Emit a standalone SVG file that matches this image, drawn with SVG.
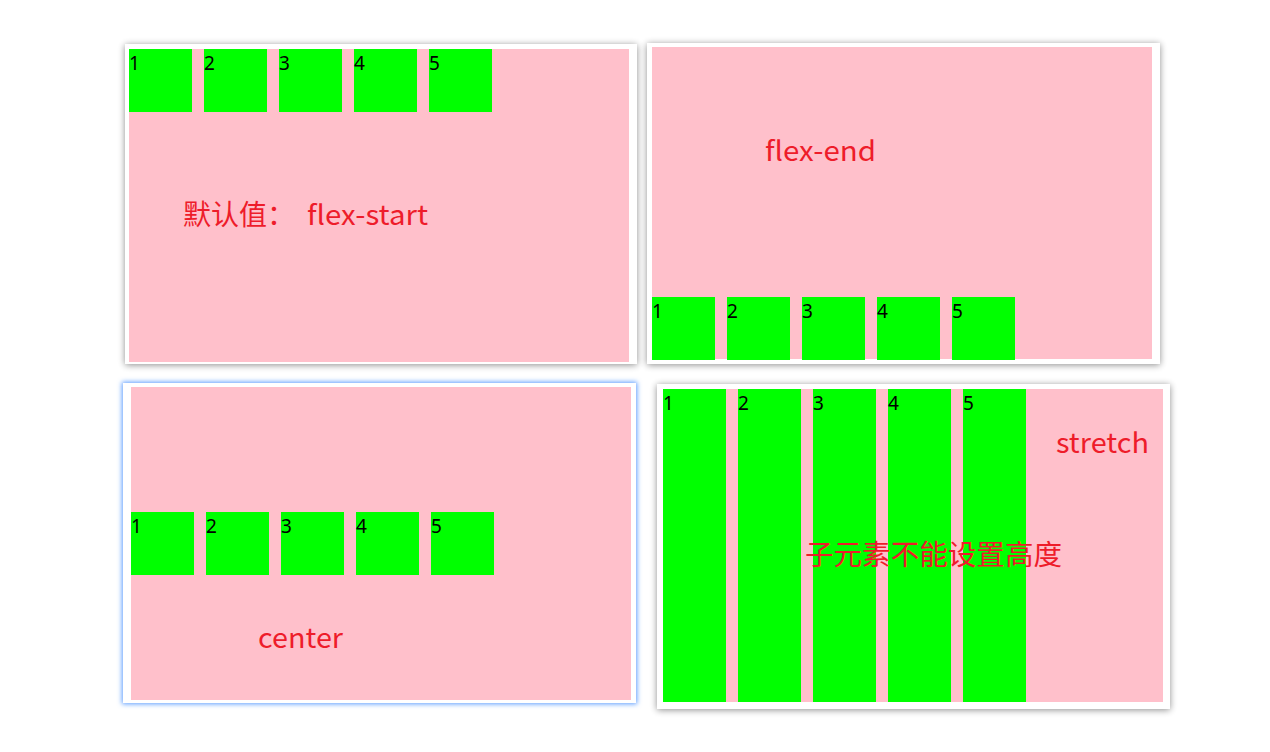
<svg xmlns="http://www.w3.org/2000/svg" width="1270" height="752" viewBox="0 0 1270 752">
<defs>
<filter id="sh" x="-5%" y="-5%" width="110%" height="110%"><feGaussianBlur in="SourceAlpha" stdDeviation="3.5"/><feOffset dx="0" dy="1"/><feComponentTransfer><feFuncA type="linear" slope="0.45"/></feComponentTransfer><feMerge><feMergeNode/><feMergeNode in="SourceGraphic"/></feMerge></filter>
<filter id="blue" x="-5%" y="-5%" width="110%" height="110%"><feMorphology in="SourceAlpha" operator="dilate" radius="1" result="d"/><feGaussianBlur in="d" stdDeviation="2.5" result="b"/><feFlood flood-color="#5a9cff" flood-opacity="1"/><feComposite operator="in" in2="b"/><feMerge><feMergeNode/><feMergeNode in="SourceGraphic"/></feMerge></filter>
</defs>
<style>
.box{fill:#ffffff}
.pink{fill:#ffc0cb}
.g{fill:#00ff00}
.n{font-family:"Noto Sans","Liberation Sans",sans-serif;font-size:19px;fill:#000000}
.t{font-family:"Noto Sans CJK SC","Noto Sans",sans-serif;font-size:28px;fill:#ee1c2a}
</style>
<rect width="1270" height="752" fill="#ffffff"/>
<g id="panel-flex-start">
<rect class="box" x="125" y="44" width="512" height="320" filter="url(#sh)"/>
<rect class="pink" x="129" y="49" width="500" height="313"/>
<rect class="g" x="129" y="49" width="63" height="63"/>
<rect class="g" x="204" y="49" width="63" height="63"/>
<rect class="g" x="279" y="49" width="63" height="63"/>
<rect class="g" x="354" y="49" width="63" height="63"/>
<rect class="g" x="429" y="49" width="63" height="63"/>
<text class="n" x="129" y="70">1</text>
<text class="n" x="204" y="70">2</text>
<text class="n" x="279" y="70">3</text>
<text class="n" x="354" y="70">4</text>
<text class="n" x="429" y="70">5</text>
<text class="t" x="183" y="225">默认值：<tspan x="307" textLength="121" lengthAdjust="spacingAndGlyphs">flex-start</tspan></text>
</g>
<g id="panel-flex-end">
<rect class="box" x="647" y="43" width="513" height="321" filter="url(#sh)"/>
<rect class="pink" x="652" y="47" width="500" height="312"/>
<rect class="g" x="652" y="297" width="63" height="63"/>
<rect class="g" x="727" y="297" width="63" height="63"/>
<rect class="g" x="802" y="297" width="63" height="63"/>
<rect class="g" x="877" y="297" width="63" height="63"/>
<rect class="g" x="952" y="297" width="63" height="63"/>
<text class="n" x="652" y="318">1</text>
<text class="n" x="727" y="318">2</text>
<text class="n" x="802" y="318">3</text>
<text class="n" x="877" y="318">4</text>
<text class="n" x="952" y="318">5</text>
<text class="t" x="765" y="161" textLength="111" lengthAdjust="spacingAndGlyphs">flex-end</text>
</g>
<g id="panel-center">
<rect class="box" x="123" y="383" width="513" height="320" filter="url(#blue)"/>
<rect class="pink" x="131" y="387" width="500" height="313"/>
<rect class="g" x="131" y="512" width="63" height="63"/>
<rect class="g" x="206" y="512" width="63" height="63"/>
<rect class="g" x="281" y="512" width="63" height="63"/>
<rect class="g" x="356" y="512" width="63" height="63"/>
<rect class="g" x="431" y="512" width="63" height="63"/>
<text class="n" x="131" y="533">1</text>
<text class="n" x="206" y="533">2</text>
<text class="n" x="281" y="533">3</text>
<text class="n" x="356" y="533">4</text>
<text class="n" x="431" y="533">5</text>
<text class="t" x="258" y="648" textLength="85" lengthAdjust="spacingAndGlyphs">center</text>
</g>
<g id="panel-stretch">
<rect class="box" x="657" y="384" width="513" height="325" filter="url(#sh)"/>
<rect class="pink" x="663" y="389" width="500" height="313"/>
<rect class="g" x="663" y="389" width="63" height="313"/>
<rect class="g" x="738" y="389" width="63" height="313"/>
<rect class="g" x="813" y="389" width="63" height="313"/>
<rect class="g" x="888" y="389" width="63" height="313"/>
<rect class="g" x="963" y="389" width="63" height="313"/>
<text class="n" x="663" y="410">1</text>
<text class="n" x="738" y="410">2</text>
<text class="n" x="813" y="410">3</text>
<text class="n" x="888" y="410">4</text>
<text class="n" x="963" y="410">5</text>
<text class="t" x="1056" y="453" textLength="93" lengthAdjust="spacingAndGlyphs">stretch</text>
<text class="t" x="805" y="565" textLength="257" lengthAdjust="spacingAndGlyphs">子元素不能设置高度</text>
</g>
<g id="connectors"/>
</svg>
